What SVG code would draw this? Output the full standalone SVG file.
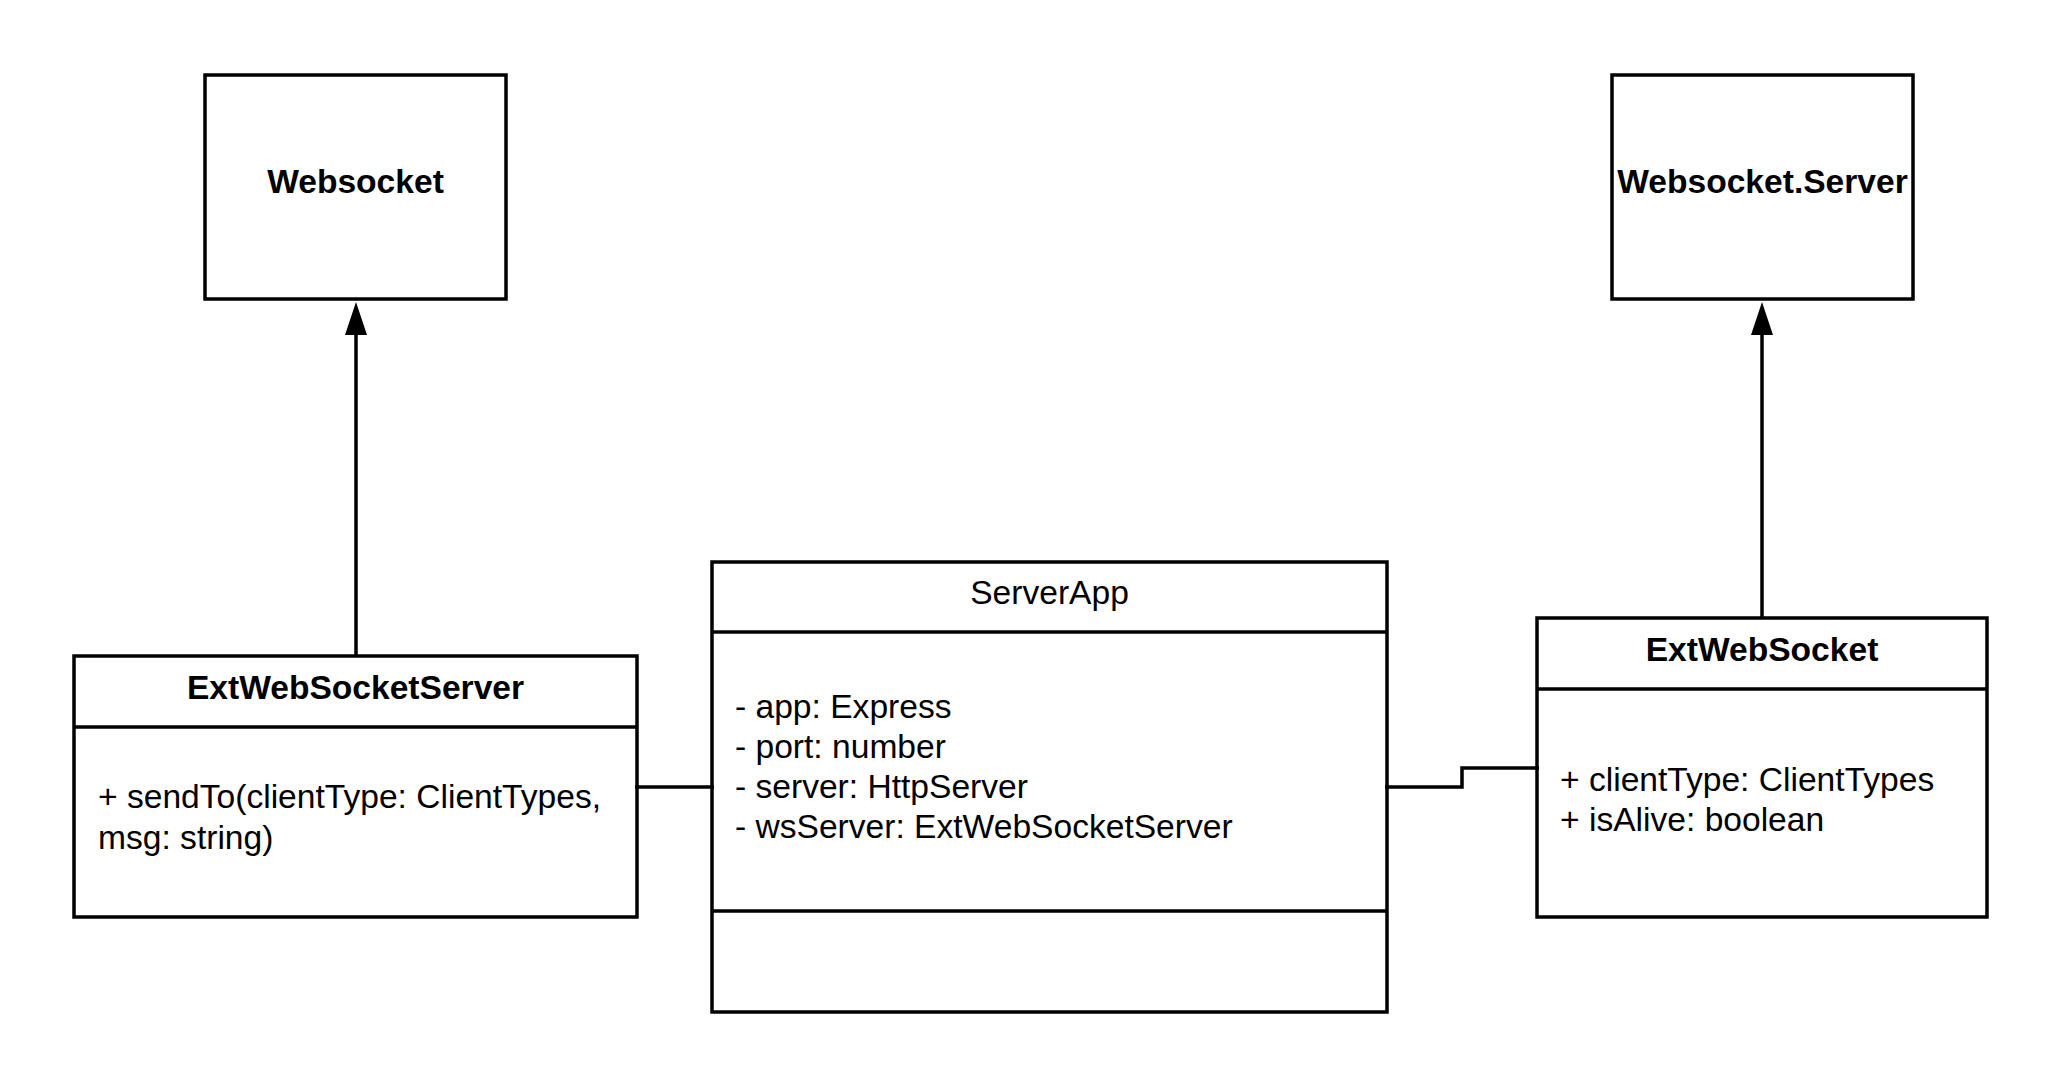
<svg xmlns="http://www.w3.org/2000/svg" width="2063" height="1088" viewBox="0 0 2063 1088">
  <style>
    .box { fill: #ffffff; stroke: #000000; stroke-width: 3.5; }
    .div { stroke: #000000; stroke-width: 3.5; fill: none; }
    .conn { stroke: #000000; stroke-width: 3.5; fill: none; }
    .title { font-family: "Liberation Sans", Arial, sans-serif; font-size: 33.6px; font-weight: bold; fill: #000000; text-anchor: middle; }
    .name { font-family: "Liberation Sans", Arial, sans-serif; font-size: 33.6px; fill: #000000; text-anchor: middle; }
    .attr { font-family: "Liberation Sans", Arial, sans-serif; font-size: 33.6px; fill: #000000; }
  </style>
  <defs>
    <marker id="arrow" viewBox="0 -11 33 22" refX="0" refY="0" markerWidth="33" markerHeight="22" markerUnits="userSpaceOnUse" orient="auto">
      <path d="M0,-11 L33,0 L0,11 Z" fill="#000000"/>
    </marker>
  </defs>
  <rect width="2063" height="1088" fill="#ffffff"/>

  <g id="websocket">
    <rect class="box" x="205" y="75" width="301" height="224"/>
    <text class="title" x="355.5" y="193">Websocket</text>
  </g>

  <g id="websocket-server">
    <rect class="box" x="1612" y="75" width="301" height="224"/>
    <text class="title" x="1762.5" y="193">Websocket.Server</text>
  </g>

  <g id="ext-websocket-server">
    <rect class="box" x="74" y="656" width="563" height="261"/>
    <line class="div" x1="74" y1="727" x2="637" y2="727"/>
    <text class="title" x="355.5" y="699">ExtWebSocketServer</text>
    <text class="attr" x="98" y="808">+ sendTo(clientType: ClientTypes,</text>
    <text class="attr" x="98" y="849">msg: string)</text>
  </g>

  <g id="server-app">
    <rect class="box" x="712" y="562" width="675" height="450"/>
    <line class="div" x1="712" y1="632" x2="1387" y2="632"/>
    <line class="div" x1="712" y1="911" x2="1387" y2="911"/>
    <text class="name" x="1049.5" y="604">ServerApp</text>
    <text class="attr" x="735" y="718">- app: Express</text>
    <text class="attr" x="735" y="758">- port: number</text>
    <text class="attr" x="735" y="798">- server: HttpServer</text>
    <text class="attr" x="735" y="838">- wsServer: ExtWebSocketServer</text>
  </g>

  <g id="ext-websocket">
    <rect class="box" x="1537" y="618" width="450" height="299"/>
    <line class="div" x1="1537" y1="689" x2="1987" y2="689"/>
    <text class="title" x="1762" y="661">ExtWebSocket</text>
    <text class="attr" x="1560" y="791">+ clientType: ClientTypes</text>
    <text class="attr" x="1560" y="831">+ isAlive: boolean</text>
  </g>

  <g id="connectors">
    <line class="conn" x1="356" y1="656" x2="356" y2="335" marker-end="url(#arrow)"/>
    <line class="conn" x1="1762" y1="618" x2="1762" y2="335" marker-end="url(#arrow)"/>
    <line class="conn" x1="635" y1="787" x2="714" y2="787"/>
    <polyline class="conn" points="1385,787 1462,787 1462,768 1539,768"/>
  </g>
</svg>
